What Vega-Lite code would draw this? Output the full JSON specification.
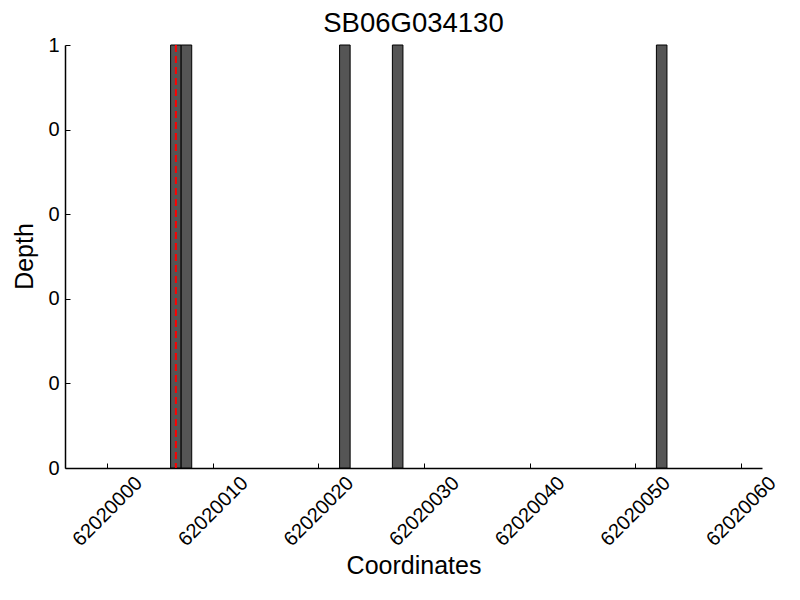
{
  "$schema": "https://vega.github.io/schema/vega-lite/v6.json",
  "width": 697,
  "height": 423,
  "autosize": "none",
  "padding": {"left": 65, "top": 45, "right": 38, "bottom": 132},
  "background": "white",
  "title": {"text": "SB06G034130", "font": "Liberation Sans", "fontSize": 27.5, "fontWeight": "normal", "color": "black", "anchor": "middle", "offset": 10, "baseline": "alphabetic", "dy": 34},
  "config": {"view": {"stroke": null}, "axis": {"grid": false, "domainColor": "black", "domainWidth": 1.5, "tickColor": "black", "tickSize": -5, "tickWidth": 1, "labelFont": "Liberation Sans", "labelFontSize": 20, "labelColor": "black", "titleFont": "Liberation Sans", "titleFontSize": 25, "titleFontWeight": "normal", "titleColor": "black"}},
  "datasets": {
    "bars": [
      {"start": 62020006, "end": 62020007, "depth": 1},
      {"start": 62020007, "end": 62020008, "depth": 1},
      {"start": 62020022, "end": 62020023, "depth": 1},
      {"start": 62020027, "end": 62020028, "depth": 1},
      {"start": 62020052, "end": 62020053, "depth": 1}
    ],
    "marker": [{"pos": 62020006.5}]
  },
  "layer": [
    {
      "data": {"name": "bars"},
      "mark": {"type": "rect", "fill": "#555555", "stroke": "black", "strokeWidth": 1},
      "encoding": {
        "x": {"field": "start", "type": "quantitative", "scale": {"domain": [62019996, 62020062], "nice": false, "zero": false},
          "axis": {"values": [62020000, 62020010, 62020020, 62020030, 62020040, 62020050, 62020060], "format": "d", "labelAngle": -45, "labelAlign": "center", "labelBaseline": "middle", "labelPadding": 48, "title": "Coordinates", "titleBaseline": "alphabetic", "titleY": 105}},
        "x2": {"field": "end"},
        "y": {"field": "depth", "type": "quantitative", "scale": {"domain": [0, 1], "nice": false},
          "axis": {"values": [0, 0.2, 0.4, 0.6, 0.8, 1], "labelExpr": "toString(floor(datum.value))", "labelPadding": 11, "title": "Depth", "titleBaseline": "alphabetic", "titleX": -33, "titleY": 211}},
        "y2": {"datum": 0}
      }
    },
    {
      "data": {"name": "marker"},
      "mark": {"type": "rule", "color": "red", "strokeWidth": 2, "strokeDash": [7, 4]},
      "encoding": {"x": {"field": "pos", "type": "quantitative"}}
    }
  ]
}
